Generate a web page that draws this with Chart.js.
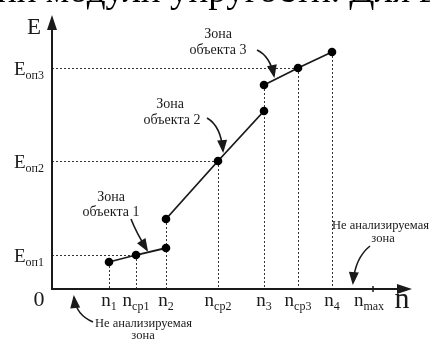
<!DOCTYPE html>
<html>
<head>
<meta charset="utf-8">
<script src="https://cdn.jsdelivr.net/npm/chart.js@4"></script>
<style>
  html, body { margin: 0; padding: 0; background: #fff; }
  #wrap { width: 430px; height: 340px; }
</style>
</head>
<body>
<div id="wrap"><canvas id="zoneChart" width="430" height="340"></canvas></div>
<script>
// values on the n axis (schematic units)
const nNames = ['n1', 'ncp1', 'n2', 'ncp2', 'n3', 'ncp3', 'n4', 'nmax'];
const nValues = [5.7, 8.4, 11.4, 16.6, 21.2, 24.6, 28.0, 32.1];
// E values of each zone (start, middle, end)
const zone1E = [2.7, 3.4, 4.1];
const zone2E = [7.0, 12.8, 17.8];
const zone3E = [20.4, 22.1, 23.7];
// reference E levels (middle of each zone)
const eNames = ['оп1', 'оп2', 'оп3'];
const eValues = [3.4, 12.8, 22.1];

const zone1N = [nValues[0], nValues[1], nValues[2]];
const zone2N = [nValues[2], nValues[3], nValues[4]];
const zone3N = [nValues[4], nValues[5], nValues[6]];

const SERIF = '"Liberation Serif", "DejaVu Serif", serif';
const INK = '#1a1a1a';

function pts(xs, ys) {
    return xs.map((x, i) => ({x: x, y: ys[i]}));
}

function subText(ctx, main, sub, x, y, align, mainSize, subSize) {
    ctx.font = mainSize + 'px ' + SERIF;
    const wm = ctx.measureText(main).width;
    ctx.font = subSize + 'px ' + SERIF;
    const ws = ctx.measureText(sub).width;
    let left = x;
    if (align === 'center') left = x - (wm + ws) / 2;
    if (align === 'right') left = x - wm - ws;
    ctx.textAlign = 'left';
    ctx.textBaseline = 'alphabetic';
    ctx.font = mainSize + 'px ' + SERIF;
    ctx.fillText(main, left, y);
    ctx.font = subSize + 'px ' + SERIF;
    ctx.fillText(sub, left + wm, y + 4);
}

function curvedArrow(ctx, x0, y0, cx, cy, x1, y1) {
    ctx.beginPath();
    ctx.moveTo(x0, y0);
    ctx.quadraticCurveTo(cx, cy, x1, y1);
    ctx.lineWidth = 1.6;
    ctx.stroke();
    const a = Math.atan2(y1 - cy, x1 - cx);
    const len = 11, half = 5;
    ctx.beginPath();
    ctx.moveTo(x1 + Math.cos(a) * 2, y1 + Math.sin(a) * 2);
    ctx.lineTo(x1 - Math.cos(a) * len + Math.sin(a) * half, y1 - Math.sin(a) * len - Math.cos(a) * half);
    ctx.lineTo(x1 - Math.cos(a) * len - Math.sin(a) * half, y1 - Math.sin(a) * len + Math.cos(a) * half);
    ctx.closePath();
    ctx.fill();
}

const diagramPlugin = {
    id: 'diagram',
    beforeDatasetsDraw(chart) {
        const ctx = chart.ctx;
        const xs = chart.scales.x, ys = chart.scales.y;
        const x0 = xs.getPixelForValue(0), y0 = ys.getPixelForValue(0);
        ctx.save();
        ctx.strokeStyle = '#333';
        ctx.lineWidth = 1;
        ctx.setLineDash([2, 2]);
        // vertical guides from each point to the n axis
        const tops = [zone1E[0], zone1E[1], zone2E[0], zone2E[1], zone3E[0], zone3E[1], zone3E[2]];
        for (let i = 0; i < 7; i++) {
            const px = Math.round(xs.getPixelForValue(nValues[i])) + 0.5;
            ctx.beginPath();
            ctx.moveTo(px, ys.getPixelForValue(tops[i]));
            ctx.lineTo(px, y0);
            ctx.stroke();
        }
        // horizontal guides for E levels
        const ends = [nValues[1], nValues[3], nValues[5]];
        for (let i = 0; i < 3; i++) {
            const py = Math.round(ys.getPixelForValue(eValues[i])) + 0.5;
            ctx.beginPath();
            ctx.moveTo(x0, py);
            ctx.lineTo(xs.getPixelForValue(ends[i]), py);
            ctx.stroke();
        }
        ctx.restore();
    },
    afterDraw(chart) {
        const ctx = chart.ctx;
        const area = chart.chartArea;
        const xs = chart.scales.x, ys = chart.scales.y;
        const x0 = xs.getPixelForValue(0), y0 = ys.getPixelForValue(0);
        const X = v => xs.getPixelForValue(v), Y = v => ys.getPixelForValue(v);
        ctx.save();
        ctx.fillStyle = INK;
        ctx.strokeStyle = INK;

        // page text cut off at the top
        ctx.font = '37px ' + SERIF;
        ctx.textAlign = 'left';
        ctx.textBaseline = 'alphabetic';
        ctx.fillStyle = '#000';
        ctx.fillText('ни модули упругости. Для в', -3, 2);
        ctx.fillStyle = INK;

        // axes with arrows
        ctx.lineWidth = 2;
        ctx.beginPath();
        ctx.moveTo(x0, area.top + 8);
        ctx.lineTo(x0, y0);
        ctx.lineTo(area.right - 8, y0);
        ctx.stroke();
        ctx.beginPath();
        ctx.moveTo(x0, area.top);
        ctx.lineTo(x0 - 5, area.top + 15);
        ctx.lineTo(x0 + 5, area.top + 15);
        ctx.closePath();
        ctx.fill();
        ctx.beginPath();
        ctx.moveTo(area.right, y0);
        ctx.lineTo(area.right - 15, y0 - 5);
        ctx.lineTo(area.right - 15, y0 + 5);
        ctx.closePath();
        ctx.fill();
        // nmax tick
        ctx.lineWidth = 1.5;
        ctx.beginPath();
        ctx.moveTo(X(nValues[7]), y0 - 3);
        ctx.lineTo(X(nValues[7]), y0 + 3);
        ctx.stroke();

        // axis names
        ctx.font = '23px ' + SERIF;
        ctx.textAlign = 'center';
        ctx.fillText('E', x0 - 18, area.top + 19);
        ctx.font = '30px ' + SERIF;
        ctx.fillText('n', area.right - 10, y0 + 19);
        ctx.font = '22px ' + SERIF;
        ctx.fillText('0', x0 - 13, y0 + 17);

        // n tick labels
        nNames.forEach((name, i) => {
            const shift = name === 'nmax' ? -4 : 0;
            subText(ctx, name[0], name.slice(1), X(nValues[i]) + shift, y0 + 17, 'center', 19, 12);
        });
        // E tick labels
        eNames.forEach((name, i) => {
            subText(ctx, 'E', name, x0 - 8, Y(eValues[i]) + 7, 'right', 19, 12);
        });

        // zone notes
        ctx.font = '14px ' + SERIF;
        ctx.textAlign = 'center';
        ctx.fillText('Зона', 111, 201);
        ctx.fillText('объекта 1', 111, 216);
        ctx.fillText('Зона', 170, 108);
        ctx.fillText('объекта 2', 172, 124);
        ctx.fillText('Зона', 218, 38);
        ctx.fillText('объекта 3', 218, 54);
        curvedArrow(ctx, 131, 219, 136, 232, X(9.5), Y(3.9));
        curvedArrow(ctx, 207, 118, 221, 126, X(17.1), Y(13.8));
        curvedArrow(ctx, 257, 50, 270, 56, X(22.2), Y(21.3));

        ctx.font = '12.5px ' + SERIF;
        ctx.textAlign = 'left';
        ctx.fillText('Не анализируемая', 95, 327);
        ctx.textAlign = 'center';
        ctx.fillText('зона', 143, 339);
        curvedArrow(ctx, 93, 322, 76, 315, X(2.2), Y(-0.8));
        ctx.textAlign = 'left';
        ctx.fillText('Не анализируемая', 332, 229);
        ctx.textAlign = 'center';
        ctx.fillText('зона', 383, 242);
        curvedArrow(ctx, 370, 246, 355, 258, X(30.1), Y(0.6));

        ctx.restore();
    }
};

const lineStyle = {
    borderColor: INK,
    backgroundColor: INK,
    borderWidth: 1.8,
    pointRadius: 4.3,
    pointHoverRadius: 4.3,
    pointBackgroundColor: '#000',
    pointBorderWidth: 0,
    tension: 0,
    fill: false
};

const ctx = document.getElementById('zoneChart').getContext('2d');
const zoneChart = new Chart(ctx, {
    type: 'line',
    data: {
        datasets: [
            Object.assign({label: 'Зона объекта 1', data: pts(zone1N, zone1E)}, lineStyle),
            Object.assign({label: 'Зона объекта 2', data: pts(zone2N, zone2E)}, lineStyle),
            Object.assign({label: 'Зона объекта 3', data: pts(zone3N, zone3E)}, lineStyle)
        ]
    },
    options: {
        responsive: false,
        animation: false,
        layout: { padding: { left: 52, right: 18, top: 15, bottom: 51 } },
        scales: {
            x: { type: 'linear', display: false, min: 0, max: 36 },
            y: { type: 'linear', display: false, min: 0, max: 27.4 }
        },
        plugins: {
            legend: { display: false },
            tooltip: { enabled: false }
        }
    },
    plugins: [diagramPlugin]
});
</script>
</body>
</html>
